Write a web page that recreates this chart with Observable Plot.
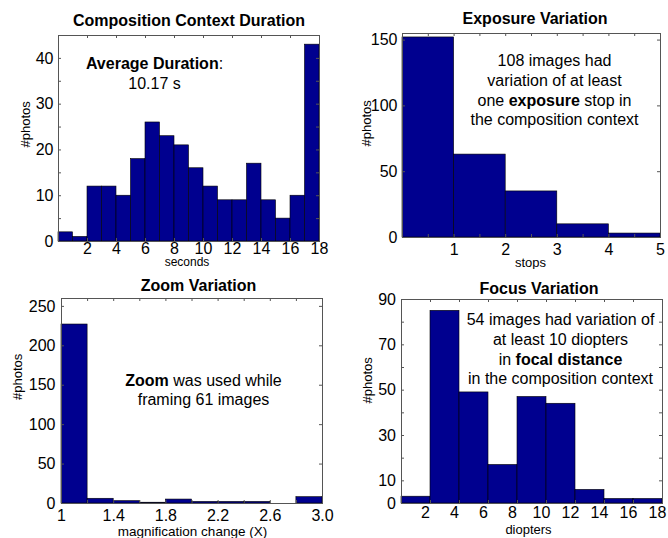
<!DOCTYPE html>
<html><head><meta charset="utf-8">
<script src="https://cdn.jsdelivr.net/npm/d3@7"></script>
<script src="https://cdn.jsdelivr.net/npm/@observablehq/plot@0.6"></script>
<style>
body{margin:0;background:#fff;}
#grid{position:relative;width:668px;height:538px;overflow:hidden;}
#grid > div{position:absolute;}
</style></head><body><div id="grid"></div>
<script>
// ---- data ----
const durationBinStart = [0,1,2,3,4,5,6,7,8,9,10,11,12,13,14,15,16,17];
const durationCounts   = [2,1,12,12,10,18,26,23,21,16,12,9,9,17,9,5,10,43];
const durationXTicks = [2,4,6,8,10,12,14,16,18];
const durationYTicks = [0,10,20,30,40];

const exposureBinStart = [0,1,2,3,4];
const exposureCounts   = [152,63,35,10,3];
const exposureXTicks = [1,2,3,4,5];
const exposureYTicks = [0,50,100,150];

const zoomBinStart = [1.0,1.2,1.4,1.6,1.8,2.0,2.2,2.4,2.6,2.8];
const zoomCounts   = [227,6,3,1,5,2,2,2,0,8];
const zoomXTicks = [1,1.4,1.8,2.2,2.6,3.0];
const zoomXTickLabels = ["1","1.4","1.8","2.2","2.6","3.0"];
const zoomYTicks = [0,50,100,150,200,250];

const focusBinStart = [0,2,4,6,8,10,12,14,16];
const focusCounts   = [3,85,49,17,47,44,6,2,2];
const focusXTicks = [2,4,6,8,10,12,14,16,18];
const focusYTicks = [0,10,30,50,70,90];

const titles = ["Composition Context Duration","Exposure Variation","Zoom Variation","Focus Variation"];
const xLabels = ["seconds","stops","magnification change (X)","diopters"];
const yLabel = "#photos";
const notes = [
  "**Average Duration**:\n10.17 s",
  "108 images had\nvariation of at least\none **exposure** stop in\nthe composition context",
  "**Zoom** was used while\nframing 61 images",
  "54 images had variation of\nat least 10 diopters\nin **focal distance**\nin the composition context"
];

const range = (a, b, s) => d3.range(Math.round((b - a) / s) + 1).map(i => +(a + i * s).toFixed(6));

const BAR = "#00008f";
const AX = "#555";

function applyBold(svg) {
  Array.from(svg.querySelectorAll("text, tspan")).forEach(el => {
    if (el.children.length) return;
    const s = el.textContent;
    if (!s.includes("**")) return;
    const parts = s.split("**");
    el.textContent = "";
    parts.forEach((p, i) => {
      if (!p) return;
      const t = document.createElementNS("http://www.w3.org/2000/svg", "tspan");
      if (i % 2) t.setAttribute("font-weight", "bold");
      t.textContent = p;
      el.appendChild(t);
    });
  });
}

function panel(c) {
  const W = 334, H = 269;
  const fw = W - c.ml - c.mr, fh = H - c.mt - c.mb;
  const bars = c.starts.map((s, i) => ({x1: s, x2: s + c.bw, n: c.counts[i]}));
  const svg = Plot.plot({
    width: W, height: H,
    marginLeft: c.ml, marginRight: c.mr, marginTop: c.mt, marginBottom: c.mb,
    style: {fontFamily: "'Liberation Sans', Arial, sans-serif", fontSize: "16px", background: "#fff", color: "#000"},
    x: {domain: c.xDomain},
    y: {domain: c.yDomain},
    marks: [
      Plot.rect(bars, {x1: "x1", x2: "x2", y1: 0, y2: "n", fill: BAR, stroke: "#000", strokeWidth: 0.6}),
      Plot.tickX(c.xMarks, {x: d => d, insetTop: fh - 3, stroke: AX}),
      Plot.tickX(c.xMarks, {x: d => d, insetBottom: fh - 3, stroke: AX}),
      Plot.tickY(c.yMarks, {y: d => d, insetRight: fw - 3, stroke: AX}),
      Plot.tickY(c.yMarks, {y: d => d, insetLeft: fw - 3, stroke: AX}),
      Plot.frame({stroke: AX}),
      Plot.axisX(c.xTicks, {anchor: "bottom", tickSize: 0, tickPadding: c.xPad, label: null, dx: c.xTdx || 0,
        tickFormat: c.xFmt || (d => String(d)), fontSize: 16}),
      Plot.axisY(c.yTicks, {anchor: "left", tickSize: 0, tickPadding: c.yPad, label: null,
        tickFormat: d => String(d), fontSize: 16}),
      Plot.text([c.title], {frameAnchor: "top", dx: c.tdx, dy: c.tdy, lineAnchor: "middle",
        fontWeight: "bold", fontSize: 16}),
      Plot.text([c.xLabel], {frameAnchor: "bottom", dx: c.xldx, dy: c.xldy, lineAnchor: "middle", fontSize: c.xlSize}),
      Plot.text([yLabel], {frameAnchor: "left", dx: c.yldx, dy: c.yldy, rotate: -90, lineAnchor: "middle", fontSize: 13}),
      Plot.text([c.note], {frameAnchor: "top", dx: c.ndx, dy: c.ndy, lineAnchor: "middle",
        lineHeight: c.nlh, fontSize: 16})
    ]
  });
  applyBold(svg);
  const div = document.createElement("div");
  div.style.left = c.left + "px";
  div.style.top = c.top + "px";
  div.appendChild(svg);
  document.getElementById("grid").appendChild(div);
}

panel({
  left: 0, top: 0, ml: 58, mr: 15, mt: 35, mb: 28,
  starts: durationBinStart, counts: durationCounts, bw: 1,
  xDomain: [0, 18], yDomain: [0, 45],
  xTicks: durationXTicks, yTicks: durationYTicks,
  xMarks: range(0, 18, 2), yMarks: range(0, 45, 5),
  xPad: 1, yPad: 5,
  title: titles[0], tdx: 0, tdy: -15,
  xLabel: xLabels[0], xldx: -2, xldy: 21, xlSize: 12,
  yldx: -33, yldy: 9,
  note: notes[0], ndx: -34.5, ndy: 37, nlh: 1.25
});

panel({
  left: 334, top: 0, ml: 68, mr: 8, mt: 33, mb: 32,
  starts: exposureBinStart, counts: exposureCounts, bw: 1,
  xDomain: [0, 5], yDomain: [0, 155],
  xTicks: exposureXTicks, yTicks: exposureYTicks,
  xMarks: range(0, 5, 0.5), yMarks: range(0, 150, 50),
  xPad: 6, yPad: 5,
  title: titles[1], tdx: 3.5, tdy: -14.5,
  xLabel: xLabels[1], xldx: -1, xldy: 25, xlSize: 13,
  yldx: -36, yldy: 11,
  note: notes[1], ndx: 23, ndy: 56, nlh: 1.22
});

panel({
  left: 0, top: 269, ml: 61, mr: 12, mt: 29, mb: 35,
  starts: zoomBinStart, counts: zoomCounts, bw: 0.2,
  xDomain: [1, 3], yDomain: [0, 260],
  xTicks: zoomXTicks, yTicks: zoomYTicks, xFmt: (d, i) => zoomXTickLabels[i],
  xMarks: range(1, 3, 0.2), yMarks: range(0, 250, 50),
  xPad: 6, yPad: 6,
  title: titles[2], tdx: 6.5, tdy: -13,
  xLabel: xLabels[2], xldx: 0.5, xldy: 28, xlSize: 13.5,
  yldx: -44, yldy: -1,
  note: notes[2], ndx: 11.5, ndy: 90.5, nlh: 1.19
});

panel({
  left: 334, top: 269, ml: 67, mr: 6, mt: 30, mb: 35,
  starts: focusBinStart, counts: focusCounts, bw: 2,
  xDomain: [0, 18], yDomain: [0, 90],
  xTicks: focusXTicks, yTicks: focusYTicks,
  xMarks: range(0, 18, 2), yMarks: range(0, 90, 10),
  xPad: 3, yPad: 5.5, xTdx: -5,
  title: titles[3], tdx: 7, tdy: -11,
  xLabel: xLabels[3], xldx: -3.5, xldy: 26, xlSize: 13,
  yldx: -34, yldy: 2,
  note: notes[3], ndx: 28.5, ndy: 49, nlh: 1.23
});
</script>
</body></html>
